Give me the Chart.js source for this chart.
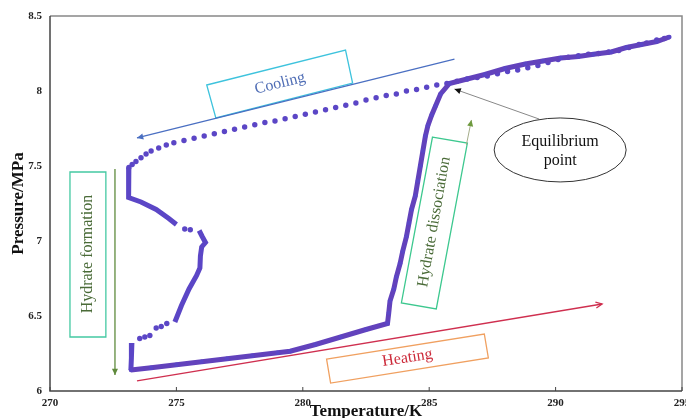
<!DOCTYPE html>
<html>
<head>
<meta charset="utf-8">
<script src="https://cdn.jsdelivr.net/npm/chart.js@4.4.0/dist/chart.umd.min.js"></script>
<style>
  html, body { margin: 0; padding: 0; background: #fff; }
  #wrap { width: 686px; height: 418px; }
</style>
</head>
<body>
<div id="wrap"><canvas id="chart"></canvas></div>
<script>
// cooling run, dotted (temperature K / pressure MPa), from the top right down to 273 K
const coolT = [294.3, 294.0, 293.6, 293.3, 292.9, 292.5, 292.1, 291.7, 291.3, 290.9, 290.5, 290.1, 289.7, 289.3,
  288.9, 288.5, 288.1, 287.7, 287.3, 286.9, 286.5, 286.1, 285.7, 285.3, 284.9, 284.5, 284.1, 283.7, 283.3,
  282.9, 282.5, 282.1, 281.7, 281.3, 280.9, 280.5, 280.1, 279.7, 279.3, 278.9, 278.5, 278.1, 277.7, 277.3,
  276.9, 276.5, 276.1, 275.7, 275.3, 274.9, 274.6, 274.3, 274.0, 273.8, 273.6, 273.4, 273.25, 273.12,
  275.33, 275.55, 274.62, 274.4, 274.2, 273.95, 273.75, 273.55];
const coolP = [8.35, 8.34, 8.32, 8.31, 8.29, 8.27, 8.26, 8.25, 8.245, 8.235, 8.225, 8.21, 8.19, 8.17,
  8.155, 8.14, 8.13, 8.115, 8.1, 8.09, 8.08, 8.065, 8.05, 8.04, 8.025, 8.01, 8.0, 7.98, 7.97,
  7.955, 7.94, 7.92, 7.905, 7.89, 7.875, 7.86, 7.845, 7.83, 7.815, 7.8, 7.79, 7.775, 7.76, 7.745,
  7.73, 7.715, 7.7, 7.685, 7.67, 7.655, 7.64, 7.62, 7.6, 7.58, 7.555, 7.53, 7.51, 7.49,
  7.08, 7.075, 6.45, 6.43, 6.42, 6.37, 6.36, 6.35];

// hydrate formation, continuous stretches (null = break)
const formT = [273.12, 273.1, 273.12, 273.1, 273.12, 273.6, 274.2, 274.7, 275.0, null,
  275.9, 276.02, 276.15, 276.0, 275.95, 275.93, 275.8, 275.5, 275.2, 274.94, null,
  273.24, 273.22, 273.2];
const formP = [7.49, 7.44, 7.38, 7.32, 7.29, 7.26, 7.21, 7.15, 7.11, null,
  7.07, 7.03, 6.99, 6.96, 6.9, 6.82, 6.77, 6.68, 6.57, 6.46, null,
  6.32, 6.22, 6.14];

// heating run and hydrate dissociation
const heatT = [273.2, 274, 275, 276, 277, 278, 279, 279.5, 280.5, 281.5, 282.5, 283.35,
  283.4, 283.45, 283.6, 283.7, 283.85, 283.95, 284.1, 284.2, 284.3, 284.45, 284.55, 284.65,
  284.75, 284.85, 284.95, 285.1, 285.25, 285.45, 285.8, 286.5, 287.2, 288.0, 288.8, 289.5,
  290.2, 290.9, 291.5, 292.2, 292.8, 293.4, 294.0, 294.5];
const heatP = [6.14, 6.155, 6.175, 6.195, 6.215, 6.235, 6.255, 6.265, 6.31, 6.36, 6.41, 6.45,
  6.52, 6.6, 6.68, 6.76, 6.85, 6.93, 7.03, 7.12, 7.21, 7.3, 7.4, 7.5,
  7.6, 7.7, 7.77, 7.84, 7.9, 7.98, 8.05, 8.08, 8.11, 8.15, 8.18, 8.2,
  8.22, 8.23, 8.245, 8.26, 8.29, 8.31, 8.33, 8.36];

const pts = (ts, ps) => ts.map((t, i) => t === null ? { x: null, y: null } : { x: t, y: ps[i] });
const purple = '#5b46c6';
const serif = "'Liberation Serif', 'Times New Roman', serif";

// hand-drawn notes on top of the plot
const notes = {
  id: 'notes',
  beforeDatasetsDraw(chart) {
    const { ctx, chartArea: a, scales: { x } } = chart;
    ctx.save();
    ctx.lineWidth = 1.5;
    ctx.strokeStyle = '#888';
    ctx.beginPath();
    ctx.moveTo(a.left, a.top); ctx.lineTo(a.right, a.top); ctx.lineTo(a.right, a.bottom);
    ctx.stroke();
    ctx.strokeStyle = '#444';
    ctx.beginPath();
    ctx.moveTo(a.left, a.top); ctx.lineTo(a.left, a.bottom); ctx.lineTo(a.right, a.bottom);
    ctx.stroke();
    ctx.lineWidth = 1;
    x.ticks.forEach(t => {
      const xp = x.getPixelForValue(t.value);
      ctx.beginPath(); ctx.moveTo(xp, a.bottom); ctx.lineTo(xp, a.bottom - 4); ctx.stroke();
    });
    ctx.restore();
  },
  afterDatasetsDraw(chart) {
    const { ctx, scales: { x, y } } = chart;
    const P = (t, p) => [x.getPixelForValue(t), y.getPixelForValue(p)];

    function poly(corners, color) {
      ctx.strokeStyle = color; ctx.lineWidth = 1.3;
      ctx.beginPath();
      corners.forEach((c, i) => { const [px, py] = P(c[0], c[1]); i ? ctx.lineTo(px, py) : ctx.moveTo(px, py); });
      ctx.closePath(); ctx.stroke();
    }
    function text(str, t, p, deg, color) {
      const [px, py] = P(t, p);
      ctx.save();
      ctx.translate(px, py); ctx.rotate(deg * Math.PI / 180);
      ctx.fillStyle = color; ctx.font = '16px ' + serif;
      ctx.textAlign = 'center'; ctx.textBaseline = 'middle';
      ctx.fillText(str, 0, 0);
      ctx.restore();
    }
    function arrow(t1, p1, t2, p2, color, lw, head, headColor) {
      const [x1, y1] = P(t1, p1), [x2, y2] = P(t2, p2);
      const ang = Math.atan2(y2 - y1, x2 - x1);
      ctx.strokeStyle = color; ctx.lineWidth = lw;
      ctx.beginPath(); ctx.moveTo(x1, y1); ctx.lineTo(x2, y2); ctx.stroke();
      const L = 7, w = 0.45;
      const ax = x2 - L * Math.cos(ang - w), ay = y2 - L * Math.sin(ang - w);
      const bx = x2 - L * Math.cos(ang + w), by = y2 - L * Math.sin(ang + w);
      ctx.beginPath(); ctx.moveTo(ax, ay); ctx.lineTo(x2, y2); ctx.lineTo(bx, by);
      if (head === 'open') { ctx.stroke(); }
      else { ctx.closePath(); ctx.fillStyle = headColor || color; ctx.fill(); }
    }

    ctx.save();
    // cooling
    poly([[276.2, 8.04], [281.69, 8.273], [281.97, 8.053], [276.56, 7.82]], '#3ec3dd');
    text('Cooling', 279.1, 8.05, -14, '#4f6db5');
    arrow(286.0, 8.213, 273.44, 7.687, '#4a6fc2', 1.2, 'fill');
    // hydrate formation
    poly([[270.79, 7.46], [272.21, 7.46], [272.21, 6.36], [270.79, 6.36]], '#44c9a2');
    text('Hydrate formation', 271.5, 6.913, -90, '#4a6b38');
    arrow(272.57, 7.48, 272.57, 6.107, '#5f8a3c', 1.3, 'fill');
    // hydrate dissociation
    poly([[285.13, 7.693], [286.51, 7.653], [285.28, 6.547], [283.9, 6.587]], '#3dc88f');
    text('Hydrate dissociation', 285.2, 7.127, -80, '#4a6b38');
    arrow(286.47, 7.64, 286.67, 7.807, '#a5ad8a', 1, 'fill', '#6e9a3e');
    // heating
    arrow(273.44, 6.067, 291.84, 6.58, '#cf2f4f', 1.3, 'open');
    poly([[280.94, 6.213], [287.18, 6.38], [287.34, 6.22], [281.1, 6.053]], '#f0a060');
    text('Heating', 284.14, 6.22, -9, '#cc2a3a');
    // equilibrium point
    arrow(289.35, 7.813, 286.0, 8.013, '#888', 1, 'fill', '#111');
    const [ex, ey] = P(290.18, 7.607);
    ctx.strokeStyle = '#333'; ctx.lineWidth = 1;
    ctx.beginPath(); ctx.ellipse(ex, ey, 66, 32, 0, 0, Math.PI * 2); ctx.stroke();
    ctx.fillStyle = '#111'; ctx.font = '16px ' + serif;
    ctx.textAlign = 'center'; ctx.textBaseline = 'middle';
    ctx.fillText('Equilibrium', ex, ey - 8);
    ctx.fillText('point', ex, ey + 11);
    ctx.restore();
  }
};

new Chart(document.getElementById('chart'), {
  type: 'scatter',
  data: {
    datasets: [
      { label: 'Heating', data: pts(heatT, heatP), showLine: true, borderColor: '#6242bc', borderWidth: 5,
        pointRadius: 2.2, pointBackgroundColor: purple, pointBorderWidth: 0, spanGaps: false },
      { label: 'Formation', data: pts(formT, formP), showLine: true, borderColor: purple, borderWidth: 5,
        pointRadius: 0, spanGaps: false },
      { label: 'Cooling', data: pts(coolT, coolP), showLine: false, pointRadius: 2.7,
        pointBackgroundColor: purple, pointBorderWidth: 0 }
    ]
  },
  options: {
    responsive: true,
    maintainAspectRatio: false,
    animation: false,
    layout: { padding: { top: 16, right: 2, left: 0, bottom: 0 } },
    plugins: { legend: { display: false }, tooltip: { enabled: false } },
    scales: {
      x: {
        type: 'linear', min: 270, max: 295,
        grid: { display: false, drawTicks: false },
        border: { display: false },
        ticks: { stepSize: 5, padding: 6, color: '#222', font: { family: serif, size: 11, weight: 'bold' } },
        title: { display: true, text: 'Temperature/K', color: '#111', padding: { top: 0, bottom: -4 },
          font: { family: serif, size: 17, weight: 'bold' } },
        afterFit(s) { s.height = 27; s.paddingLeft = 0; s.paddingRight = 0; }
      },
      y: {
        min: 6, max: 8.5,
        grid: { display: false, drawTicks: false },
        border: { display: false },
        ticks: { stepSize: 0.5, padding: 8, color: '#222', callback: v => String(v),
          font: { family: serif, size: 11, weight: 'bold' } },
        title: { display: true, text: 'Pressure/MPa', color: '#111', padding: { top: 8, bottom: 0 },
          font: { family: serif, size: 17, weight: 'bold' } },
        afterFit(s) { s.width = 50; s.paddingTop = 0; s.paddingBottom = 0; }
      }
    }
  },
  plugins: [notes]
});
</script>
</body>
</html>
